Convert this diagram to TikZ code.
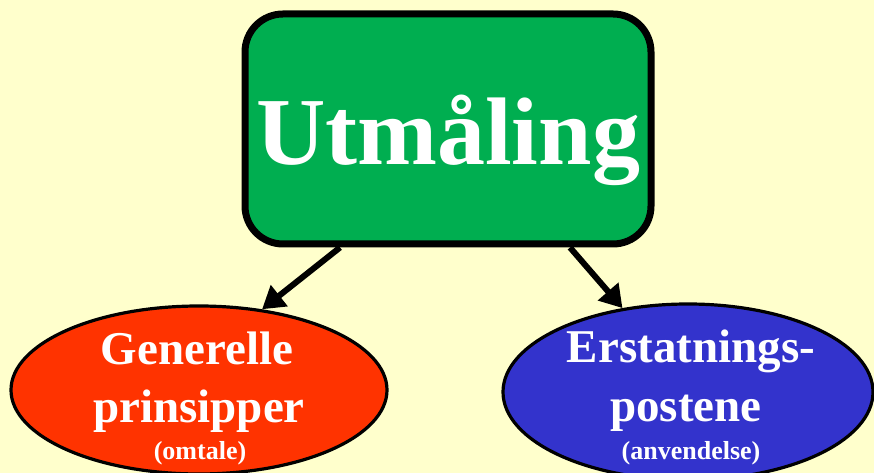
\documentclass[tikz,border=0pt]{standalone}
\usepackage{fontspec}
\setmainfont{Liberation Serif}
\usetikzlibrary{shapes.geometric,arrows.meta,calc}
\definecolor{bgyellow}{HTML}{FFFFCC}
\definecolor{boxgreen}{HTML}{00AE50}
\definecolor{ellred}{HTML}{FF3300}
\definecolor{ellblue}{HTML}{3333CC}
\tikzset{
  mainbox/.style={draw=black, fill=boxgreen, line width=7pt, rounded corners=38pt,
    minimum width=406pt, minimum height=230pt, inner sep=0pt},
  ellnode/.style={draw=black, ellipse, line width=3.2pt, inner sep=0pt},
  bigtxt/.style={text=white, font=\bfseries\fontsize{47}{50}\selectfont, anchor=base, inner sep=0pt},
  smalltxt/.style={text=white, font=\bfseries\fontsize{26}{28}\selectfont, anchor=base, inner sep=0pt},
  titletxt/.style={text=white, font=\bfseries\fontsize{96}{100}\selectfont, anchor=base, inner sep=0pt},
  arr/.style={line width=6pt, -{Triangle[length=22pt,width=26pt]}}
}
\begin{document}
\begin{tikzpicture}[x=1pt,y=1pt]
  \fill[bgyellow] (0,0) rectangle (874,473);
  \useasboundingbox (0,0) rectangle (874,473);
  \node[mainbox] (box) at (448,344) {};
  \node[titletxt] (title) at ($(box.center)+(0,-36)$) {Utmåling};
  \node[ellnode, fill=ellred, minimum width=376pt, minimum height=168pt] (red) at (199,83) {};
  \node[ellnode, fill=ellblue, minimum width=370pt, minimum height=176pt] (blue) at (688,81) {};
  \node[bigtxt] (r1) at ($(red.center)+(-2,25)$) {Generelle};
  \node[bigtxt] (r2) at ($(red.center)+(0,-33)$) {prinsipper};
  \node[smalltxt] (r3) at ($(red.center)+(1,-70)$) {(omtale)};
  \node[bigtxt] (b1) at ($(blue.center)+(3,29)$) {Erstatnings-};
  \node[bigtxt] (b2) at ($(blue.center)+(-2,-30)$) {postene};
  \node[smalltxt] (b3) at ($(blue.center)+(3,-68)$) {(anvendelse)};
  \draw[arr] ($(box.south)+(-108,0)$) -- (red.52);
  \draw[arr] ($(box.south)+(122,0)$) -- (blue.128);
\end{tikzpicture}
\end{document}
